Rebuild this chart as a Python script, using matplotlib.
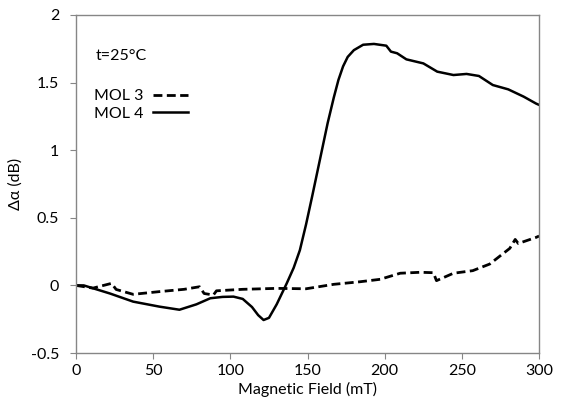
import matplotlib
matplotlib.use('Agg')
from matplotlib import pyplot as plt

plt.rcParams['font.family'] = ['Lato', 'DejaVu Sans']

# MOL 3 (dashed)
x3 = [0, 11, 23, 26, 37, 54, 70, 80, 83, 89, 91, 108, 130, 149, 167, 184, 197, 210,
      223, 231.5, 233.5, 244.5, 257, 268, 281, 284.5, 286.5, 298, 300]
y3 = [0, -0.02, 0.015, -0.03, -0.066, -0.046, -0.029, -0.01, -0.06, -0.071, -0.04,
      -0.029, -0.022, -0.025, 0.008, 0.027, 0.045, 0.09, 0.097, 0.094, 0.035, 0.09,
      0.109, 0.158, 0.274, 0.34, 0.31, 0.355, 0.365]

# MOL 4 (solid)
x4 = [0, 5, 22, 37, 54, 67, 78, 87, 95, 102, 108, 114, 118, 121.5, 125, 130, 136.5,
      141, 145, 149, 153, 158, 163, 167, 170, 173, 176, 180, 186, 193, 201, 204, 208, 214,
      225, 234, 244.5, 253, 261, 270, 280, 290, 298, 300]
y4 = [0, 0.0, -0.06, -0.12, -0.157, -0.18, -0.14, -0.095, -0.085, -0.083, -0.1,
      -0.16, -0.22, -0.256, -0.24, -0.14, 0.015, 0.13, 0.26, 0.45, 0.66, 0.93, 1.2, 1.39, 1.52,
      1.62, 1.69, 1.74, 1.78, 1.786, 1.773, 1.729, 1.717, 1.672, 1.642, 1.581, 1.556,
      1.564, 1.549, 1.482, 1.45, 1.396, 1.345, 1.335]

fig = plt.figure(figsize=(5.61, 4.12), dpi=100)
ax = fig.add_axes([0.1355, 0.1432, 0.8255, 0.8204])

ax.plot(x3, y3, color='black', lw=2.0, dashes=(3.2, 1.6), label='MOL 3')
ax.plot(x4, y4, color='black', lw=1.8, label='MOL 4')

ax.set_xlim(0, 300)
ax.set_ylim(-0.5, 2)
ax.set_xticks([0, 50, 100, 150, 200, 250, 300])
ax.set_yticks([-0.5, 0, 0.5, 1, 1.5, 2])
ax.set_yticklabels(['-0.5', '0', '0.5', '1', '1.5', '2'])
for s in ax.spines.values():
    s.set_color('#868686')
    s.set_linewidth(1.0)
ax.tick_params(direction='out', length=4, color='#868686', labelsize=11.5, pad=4)
ax.tick_params(axis='y', pad=8)

ax.set_xlabel('Magnetic Field (mT)', fontsize=11.5, labelpad=3)
ax.set_ylabel('Δα (dB)', fontsize=11.5, labelpad=6)

ax.text(0.042, 0.88, 't=25°C', transform=ax.transAxes, fontsize=11.5, va='center')
ax.legend(loc='upper left', bbox_to_anchor=(0.025, 0.80), frameon=False, fontsize=11.5,
          markerfirst=False, handlelength=2.2, handletextpad=0.6, labelspacing=0.2,
          borderaxespad=0)

fig.savefig('out.png', dpi=100)
